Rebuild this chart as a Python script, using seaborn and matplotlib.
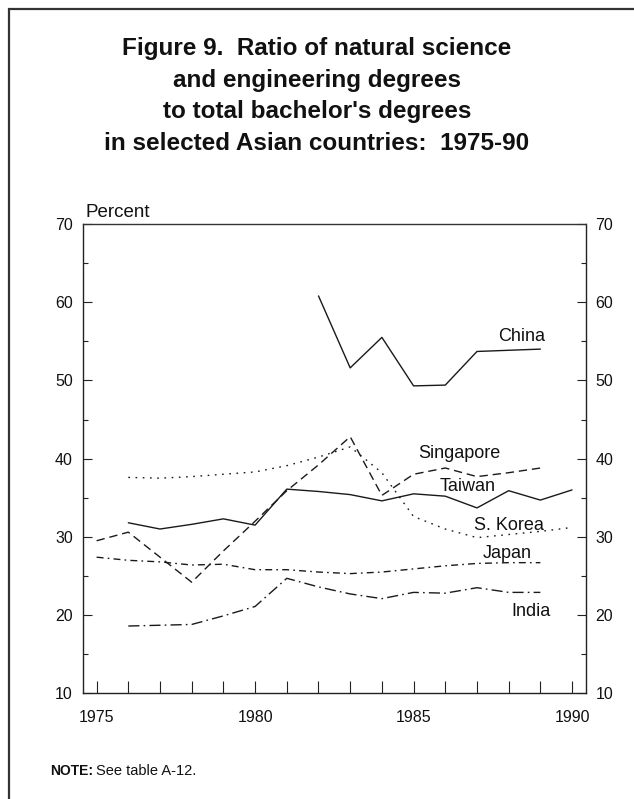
import matplotlib
matplotlib.use('Agg')
import matplotlib.pyplot as plt
from matplotlib.patches import Rectangle
from matplotlib.ticker import MultipleLocator
import seaborn as sns
import pandas as pd

# values (percent)
china_years = [1982, 1983, 1984, 1985, 1986, 1987, 1988, 1989]
china = [60.8, 51.6, 55.5, 49.3, 49.4, 53.7, 53.85, 54.0]

taiwan_years = list(range(1976, 1991))
taiwan = [31.8, 31.0, 31.6, 32.3, 31.5, 36.1, 35.8, 35.4, 34.6, 35.5, 35.2, 33.7, 35.9, 34.7, 36.0]

singapore_years = list(range(1975, 1990))
singapore = [29.5, 30.6, 27.4, 24.2, 28.2, 32.0, 35.9, 39.2, 42.8, 35.3, 38.0, 38.8, 37.7, 38.2, 38.8]

korea_years = list(range(1976, 1991))
korea = [37.6, 37.5, 37.7, 38.0, 38.3, 39.1, 40.2, 41.5, 38.2, 32.6, 31.0, 29.9, 30.3, 30.7, 31.2]

japan_years = list(range(1975, 1990))
japan = [27.4, 27.0, 26.8, 26.4, 26.5, 25.8, 25.8, 25.5, 25.3, 25.5, 25.9, 26.3, 26.6, 26.7, 26.7]

india_years = list(range(1976, 1990))
india = [18.6, 18.7, 18.8, 19.9, 21.1, 24.7, 23.6, 22.7, 22.1, 22.9, 22.8, 23.5, 22.9, 22.9]

countries = ['China', 'Taiwan', 'Singapore', 'S. Korea', 'Japan', 'India']
series = {
    'China': (china_years, china),
    'Taiwan': (taiwan_years, taiwan),
    'Singapore': (singapore_years, singapore),
    'S. Korea': (korea_years, korea),
    'Japan': (japan_years, japan),
    'India': (india_years, india),
}

rows = []
for name in countries:
    yrs, vals = series[name]
    for yr, v in zip(yrs, vals):
        rows.append({'year': yr, 'percent': v, 'country': name})
df = pd.DataFrame(rows)

# label positions (year, percent)
label_pos = {
    'China': (1988.4, 55.6),
    'Singapore': (1986.45, 40.6),
    'Taiwan': (1986.7, 36.5),
    'S. Korea': (1988.0, 31.5),
    'Japan': (1987.97, 27.9),
    'India': (1988.7, 20.4),
}

dashes = {
    'China': '',
    'Taiwan': '',
    'Singapore': (6, 3.5),
    'S. Korea': (1.2, 4),
    'Japan': (5, 3, 1.2, 3),
    'India': (8, 3, 1.2, 3),
}

sns.set_theme(style='white')
plt.rcParams['font.family'] = ['Liberation Sans', 'DejaVu Sans']
ink = '#111111'

fig = plt.figure(figsize=(6.34, 7.99), dpi=100)
ax = fig.add_axes([0.1304, 0.1323, 0.7934, 0.5874])

sns.lineplot(data=df, x='year', y='percent', hue='country', style='country',
             hue_order=countries, style_order=countries,
             palette=['#1a1a1a'] * len(countries), dashes=dashes,
             linewidth=1.0, legend=False, ax=ax, estimator=None)

for name, (x, y) in label_pos.items():
    ax.text(x, y, name, fontsize=13, ha='center', va='center', color=ink)

ax.set_xlim(1974.56, 1990.43)
ax.set_ylim(10, 70)
ax.set_xlabel('')
ax.set_ylabel('')

ax.set_xticks([1975, 1980, 1985, 1990])
ax.xaxis.set_minor_locator(MultipleLocator(1))
ax.set_yticks(range(10, 71, 10))
ax.yaxis.set_minor_locator(MultipleLocator(5))

ax.tick_params(axis='x', which='both', direction='in', length=12.5 * 0.72, width=0.8,
               color='#222222', labelsize=11.5, labelcolor=ink, pad=12, top=False, bottom=True)
ax.tick_params(axis='y', which='major', direction='in', length=9 * 0.72, width=0.8,
               color='#222222', labelsize=11.5, labelcolor=ink, pad=7,
               left=True, right=True, labelright=True)
ax.tick_params(axis='y', which='minor', direction='in', length=5 * 0.72, width=0.8,
               color='#222222', left=True, right=True)

for side in ['left', 'right', 'bottom']:
    ax.spines[side].set_color('#222222')
    ax.spines[side].set_linewidth(1.0)
ax.spines['top'].set_color('#333333')
ax.spines['top'].set_linestyle((0, (2, 1)))
ax.spines['top'].set_linewidth(1.0)

ax.text(0.006, 1.015, 'Percent', transform=ax.transAxes, fontsize=13.5,
        ha='left', va='baseline', color=ink)

title = ("Figure 9.  Ratio of natural science\n"
         "and engineering degrees\n"
         "to total bachelor's degrees\n"
         "in selected Asian countries:  1975-90")
fig.text(0.5, 1 - 96 / 799, title, ha='center', va='center', fontsize=17.5,
         fontweight='bold', family=['Liberation Sans Narrow', 'Liberation Sans'],
         linespacing=1.48, color=ink)

fig.text(50 / 634, 1 - 771 / 799, 'NOTE:', fontsize=10, fontweight='bold',
         ha='left', va='center', color=ink)
fig.text(96 / 634, 1 - 771 / 799, 'See table A-12.', fontsize=10.5,
         ha='left', va='center', color=ink)

fig.patches.append(Rectangle((8.5 / 634, -0.1), 1.0, 1.1 - 8.5 / 799, transform=fig.transFigure,
                             fill=False, edgecolor='#333333', linewidth=1.6))

fig.savefig('out.png', dpi=100)
